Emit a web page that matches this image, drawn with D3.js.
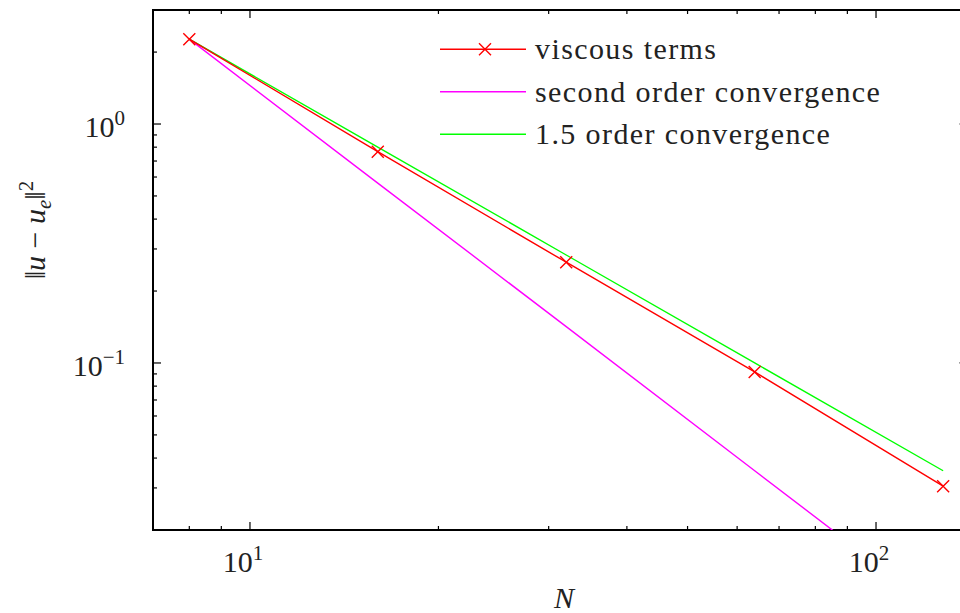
<!DOCTYPE html>
<html lang="en">
<head>
    <meta charset="UTF-8">
    <script src="https://d3js.org/d3.v7.min.js"></script>
    <title>Viscous terms convergence</title>
    <style>
        body {
            margin: 0;
            background-color: #ffffff;
        }
    </style>
</head>
<body>
    <svg id="chart"></svg>

    <script>
        // values
        const nValues = [8, 16, 32, 64, 128];
        const viscousErr = [2.265, 0.766, 0.264, 0.0917, 0.0305];
        const secondOrder = [2.265, 0.566, 0.142, 0.0354, 0.00885];
        const onePointFive = [2.265, 0.801, 0.283, 0.100, 0.0354];

        const xMajor = [10, 100];
        const xMajorExp = ["1", "2"];
        const yMajor = [1, 0.1];
        const yMajorExp = ["0", "\u22121"];

        const legendLabels = ["viscous terms", "second order convergence", "1.5 order convergence"];
        const seriesColors = ["#ff0000", "#ff00ff", "#00ff00"];

        const fontFamily = "'Liberation Serif', 'Times New Roman', Tinos, 'DejaVu Serif', serif";

        const width = 960, height = 613;
        const margin = { left: 153, top: 10, right: 967.5, bottom: 530 };

        const svg = d3.select("#chart")
            .attr("width", width)
            .attr("height", height);

        const x = d3.scaleLog().domain([7, 140]).range([margin.left, margin.right]);
        const y = d3.scaleLog().domain([0.02, 3]).range([margin.bottom, margin.top]);

        svg.append("clipPath").attr("id", "plotClip")
            .append("rect")
            .attr("x", margin.left).attr("y", margin.top)
            .attr("width", margin.right - margin.left)
            .attr("height", margin.bottom - margin.top);

        // ticks (inward, mirrored on all sides)
        const isMajor = v => Math.abs(Math.log10(v) - Math.round(Math.log10(v))) < 1e-9;
        const tickG = svg.append("g").attr("stroke", "#000").attr("stroke-width", 1.2);

        x.ticks().forEach(v => {
            const len = isMajor(v) ? 8 : 4;
            tickG.append("line").attr("x1", x(v)).attr("x2", x(v))
                .attr("y1", margin.bottom).attr("y2", margin.bottom - len);
            tickG.append("line").attr("x1", x(v)).attr("x2", x(v))
                .attr("y1", margin.top).attr("y2", margin.top + len);
        });
        y.ticks().forEach(v => {
            const len = isMajor(v) ? 8 : 4;
            tickG.append("line").attr("y1", y(v)).attr("y2", y(v))
                .attr("x1", margin.left).attr("x2", margin.left + len);
            tickG.append("line").attr("y1", y(v)).attr("y2", y(v))
                .attr("x1", margin.right).attr("x2", margin.right - len);
        });

        // frame
        svg.append("rect")
            .attr("x", margin.left).attr("y", margin.top)
            .attr("width", margin.right - margin.left)
            .attr("height", margin.bottom - margin.top)
            .attr("fill", "none")
            .attr("stroke", "#000")
            .attr("stroke-width", 2);

        const addText = (parent) => parent.append("text")
            .attr("font-family", fontFamily)
            .attr("fill", "#222")
            .attr("font-size", 30);

        // tick labels
        xMajor.forEach((v, i) => {
            const t = addText(svg)
                .attr("x", x(v) - 7)
                .attr("y", 572)
                .attr("text-anchor", "middle");
            t.append("tspan").text("10");
            t.append("tspan").attr("dy", -12).attr("font-size", 21).text(xMajorExp[i]);
        });
        yMajor.forEach((v, i) => {
            const t = addText(svg)
                .attr("x", 125)
                .attr("y", y(v) + 13)
                .attr("text-anchor", "end");
            t.append("tspan").text("10");
            t.append("tspan").attr("dy", -12).attr("font-size", 21).text(yMajorExp[i]);
        });

        // axis titles
        addText(svg)
            .attr("x", 564).attr("y", 608)
            .attr("text-anchor", "middle")
            .attr("font-style", "italic")
            .text("N");

        const yl = addText(svg)
            .attr("transform", "translate(45,230) rotate(-90)")
            .attr("text-anchor", "middle");
        yl.append("tspan").text("\u2016");
        yl.append("tspan").attr("font-style", "italic").text("u");
        yl.append("tspan").text(" \u2212 ");
        yl.append("tspan").attr("font-style", "italic").text("u");
        yl.append("tspan").attr("dy", 6).attr("font-style", "italic").attr("font-size", 21).text("e");
        yl.append("tspan").attr("dy", -6).text("\u2016");
        yl.append("tspan").attr("dy", -12).attr("font-size", 21).text("2");

        // series
        const series = [viscousErr, secondOrder, onePointFive];
        const line = d3.line().x(d => x(d[0])).y(d => y(d[1]));
        const plot = svg.append("g").attr("clip-path", "url(#plotClip)");

        [2, 1, 0].forEach(i => {
            plot.append("path")
                .datum(nValues.map((n, j) => [n, series[i][j]]))
                .attr("d", line)
                .attr("fill", "none")
                .attr("stroke", seriesColors[i])
                .attr("stroke-width", 1.4);
        });

        const cross = (g, cx, cy, r) => {
            g.append("path")
                .attr("d", `M${cx - r},${cy - r}L${cx + r},${cy + r}M${cx - r},${cy + r}L${cx + r},${cy - r}`)
                .attr("stroke", seriesColors[0])
                .attr("stroke-width", 1.4)
                .attr("fill", "none");
        };
        const markG = svg.append("g");
        nValues.forEach((n, j) => cross(markG, x(n), y(viscousErr[j]), 6));

        // legend
        const legendY = [49.3, 91.7, 134.3];
        legendLabels.forEach((label, i) => {
            svg.append("line")
                .attr("x1", 440).attr("x2", 526)
                .attr("y1", legendY[i]).attr("y2", legendY[i])
                .attr("stroke", seriesColors[i])
                .attr("stroke-width", 1.4);
            if (i === 0) cross(svg, 485, legendY[i], 6);
            addText(svg)
                .attr("x", 535)
                .attr("y", legendY[i] + 10)
                .attr("letter-spacing", 1.4)
                .text(label);
        });
    </script>
</body>
</html>
